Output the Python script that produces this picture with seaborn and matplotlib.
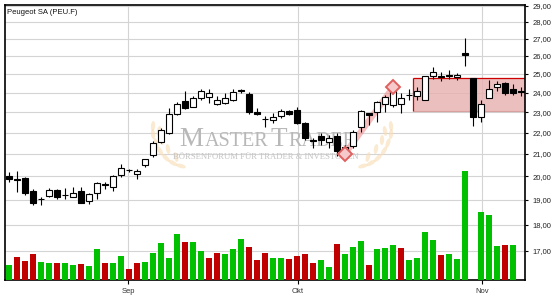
import numpy as np
import pandas as pd
import matplotlib
matplotlib.use("Agg")
import matplotlib.pyplot as plt
import seaborn as sns
from matplotlib.ticker import FixedLocator, FuncFormatter, NullLocator
from matplotlib.patches import Ellipse
from matplotlib.transforms import Affine2D
from matplotlib.offsetbox import TextArea, HPacker, AnchoredOffsetbox

# ---------------- data ----------------
title = "Peugeot SA (PEU.F)"
slots = list(range(65))
opens = [20.01, 19.86, 19.92, 19.36, 19.03, 19.17, 19.41, 19.20, 19.12, 19.37,
         18.95, 19.27, 19.68, 19.55, 20.04, 20.29, 20.12, 20.48, 20.97, 21.57,
         21.97, 22.91, 23.57, 23.28, 23.71, 23.79, 23.40, 23.45, 23.62, 24.12,
         23.93, 23.01, 22.66, 22.61, 22.81, 23.06, 23.11, 22.48, 21.66, 21.84,
         21.54, 21.84, 21.07, 21.37, 22.25, 22.94, 23.00, 23.40, 23.37, 23.40,
         23.90, 23.81, 23.62, 24.90, 24.89, 24.94, 24.83, 26.16, 24.77, 22.74,
         23.71, 24.32, 24.53, 24.18, 24.08]
highs = [20.19, 20.23, 19.95, 19.45, 19.10, 19.51, 19.46, 19.48, 19.52, 19.52,
         19.30, 19.75, 19.74, 20.07, 20.54, 20.33, 20.30, 20.78, 21.60, 22.24,
         23.19, 23.53, 24.11, 23.83, 24.18, 24.18, 23.83, 23.99, 24.21, 24.21,
         24.04, 23.19, 22.81, 22.94, 23.14, 23.11, 23.24, 22.53, 21.73, 22.00,
         21.89, 21.97, 21.41, 22.12, 23.11, 22.97, 23.58, 23.88, 24.31, 23.99,
         24.20, 24.28, 24.90, 25.41, 25.13, 25.24, 25.05, 27.03, 24.80, 23.62,
         24.68, 24.60, 24.55, 24.48, 24.28]
lows = [19.76, 19.34, 19.20, 18.79, 18.79, 19.10, 19.05, 19.05, 19.10, 18.87,
        18.81, 19.02, 19.44, 19.38, 19.98, 20.19, 19.87, 20.39, 20.87, 21.52,
        21.92, 22.86, 23.14, 23.24, 23.62, 23.45, 23.35, 23.43, 23.58, 23.98,
        22.90, 22.86, 22.25, 22.48, 22.70, 22.86, 22.40, 21.65, 21.26, 21.41,
        21.29, 20.90, 21.03, 21.26, 22.04, 22.38, 22.53, 23.00, 23.24, 22.95,
        23.60, 23.62, 23.60, 24.73, 24.62, 24.73, 24.68, 25.42, 22.34, 22.53,
        23.71, 24.09, 23.88, 23.88, 23.83]
closes = [19.89, 19.85, 19.27, 18.88, 19.02, 19.41, 19.10, 19.18, 19.27, 18.88,
          19.23, 19.70, 19.61, 20.01, 20.36, 20.27, 20.24, 20.75, 21.51, 22.12,
          22.91, 23.40, 23.22, 23.71, 24.11, 23.97, 23.62, 23.74, 24.04, 24.10,
          23.02, 22.93, 22.64, 22.76, 23.06, 22.90, 22.45, 21.73, 21.62, 21.65,
          21.73, 21.13, 21.30, 22.04, 23.06, 22.86, 23.50, 23.76, 24.09, 23.71,
          23.88, 24.09, 24.89, 25.09, 24.85, 24.87, 24.94, 26.08, 22.76, 23.40,
          24.18, 24.48, 23.98, 23.99, 24.06]
volumes = [15, 23, 19, 26, 18, 17, 17, 17, 15, 16,
           14, 31, 17, 17, 24, 11, 17, 18, 27, 37,
           22, 46, 38, 38, 29, 22, 27, 26, 31, 41,
           33, 20, 27, 22, 22, 21, 24, 26, 17, 20,
           13, 36, 26, 33, 39, 15, 31, 32, 35, 32,
           20, 22, 48, 40, 25, 26, 21, 109, np.nan, 68,
           65, 34, 35, 35, np.nan]
vol_dir = ["up", "down", "down", "down", "up", "up", "down", "up", "up", "down",
           "up", "up", "down", "up", "up", "down", "down", "up", "up", "up",
           "up", "up", "down", "up", "up", "down", "down", "up", "up", "up",
           "down", "down", "down", "up", "up", "down", "down", "down", "down", "up",
           "up", "down", "up", "up", "up", "down", "up", "up", "up", "down",
           "up", "up", "up", "up", "down", "up", "up", "up", "down", "up",
           "up", "up", "down", "up", "up"]
month_labels = ["Sep", "Okt", "Nov"]
month_pos = [14.9, 36.1, 59.1]
price_ticks = [17, 18, 19, 20, 21, 22, 23, 24, 25, 26, 27, 28, 29]
signal_slots = [42, 48]
signal_prices = [21.01, 24.28]
zone_start = 50.5
zone_low = 23.06
zone_high = 24.77

# ---------------- style ----------------
sns.set_style("white")
plt.rcParams["font.family"] = ["Liberation Sans", "DejaVu Sans"]

W, H = 555, 300
fig = plt.figure(figsize=(W / 100, H / 100), dpi=100)
ax = fig.add_axes([5 / W, 20 / H, 520 / W, 275 / H])
ax.set_yscale("log")
XMIN, XMAX = -0.5, 64.5

# zone box
ax.fill_between([zone_start, XMAX], zone_low, zone_high, color="#e8b0b0",
                alpha=0.8, lw=0, zorder=1)
ax.hlines(zone_low, zone_start, XMAX, color="#d9a0a0", lw=0.9, zorder=1.1)
ax.hlines(zone_high, zone_start, XMAX, color="#cc0000", lw=0.9, zorder=1.1)
ax.vlines(zone_start, zone_low, zone_high, color="#cc0000", lw=0.9, zorder=1.1)

# watermark (laurel + text)
pix = Affine2D().scale(1, -1).translate(0, H)
leaves = [(181, 166, 15), (173, 163, 30), (166, 158, 45), (160, 151, 60),
          (156, 143, 72), (153, 134, 85), (153, 126, 95), (176, 157, 75),
          (168, 149, 80), (162, 140, 88), (159, 131, 100)]
for lx, ly, ang in leaves:
    for xx, aa in ((lx, ang), (544 - lx, 180 - ang)):
        e = Ellipse((xx, ly), 10, 4.2, angle=aa, transform=pix,
                    facecolor="#f9dcb4", edgecolor="none", alpha=0.6, zorder=1.2)
        ax.add_patch(e)

wm_col = "#b8b8b8"
big = dict(fontsize=19.5, color=wm_col, family="Liberation Serif")
small = dict(fontsize=14.5, color=wm_col, family="Liberation Serif")
pack = HPacker(children=[TextArea("M", textprops=big), TextArea("ASTER", textprops=small),
                         TextArea("T", textprops=big), TextArea("RADER", textprops=small)],
               align="baseline", pad=0, sep=1)
anch = AnchoredOffsetbox(loc="center", child=pack, pad=0, borderpad=0, frameon=False,
                         bbox_to_anchor=((268 - 5) / 520, (280 - 139) / 275),
                         bbox_transform=ax.transAxes)
anch.set_zorder(1.3)
ax.add_artist(anch)
ax.text((266 - 5) / 520, (280 - 157) / 275, "BÖRSENFORUM FÜR TRADER & INVESTOREN",
        transform=ax.transAxes, ha="center", va="center", fontsize=6.2,
        family="Liberation Serif", color="#c4c4c4", zorder=1.3)

# trend line + signal markers
ax.plot(signal_slots, signal_prices, color="#f08888", lw=4.5, alpha=0.55,
        solid_capstyle="butt", zorder=2)
ax.plot(signal_slots, signal_prices, linestyle="none", marker="D", ms=7.5,
        mfc="#f6caca", mec="#e06060", mew=1.4, zorder=6)

# candles
o = np.array(opens); c = np.array(closes)
body_lo = np.minimum(o, c)
body_h = np.maximum(np.abs(c - o), 0.004)
fills = ["white" if cc >= oo else "black" for oo, cc in zip(o, c)]
ax.vlines(slots, lows, highs, color="black", lw=0.8, zorder=3)
ax.bar(slots, body_h, bottom=body_lo, width=0.72, color=fills,
       edgecolor="black", linewidth=0.8, zorder=4)

# volume (twin axis, seaborn)
ax2 = ax.twinx()
df_vol = pd.DataFrame({"slot": slots, "volume": volumes, "dir": vol_dir}).dropna()
for d, col in (("up", "#00c000"), ("down", "#c00000")):
    sub = df_vol[df_vol["dir"] == d]
    sns.barplot(data=sub, x="slot", y="volume", color=col, native_scale=True,
                width=0.75, errorbar=None, saturation=1, linewidth=0, ax=ax2)
ax2.set_ylim(0, 275)
ax2.set_yticks([])
ax2.set_ylabel("")
ax2.set_xlabel("")
for s in ax2.spines.values():
    s.set_visible(False)

# axes formatting
ax.set_xlim(XMIN, XMAX)
ax.set_ylim(15.95, 29.06)
ax.yaxis.set_major_locator(FixedLocator(price_ticks))
ax.yaxis.set_minor_locator(NullLocator())
ax.yaxis.set_major_formatter(FuncFormatter(lambda v, p: f"{v:.2f}".replace(".", ",")))
ax.yaxis.tick_right()
ax.set_xticks(month_pos)
ax.set_xticklabels(month_labels)
ax.set_xlabel("")
ax.set_ylabel("")
ax.grid(True, color="#d4d4d4", lw=0.8)
ax.set_axisbelow(True)
ax.tick_params(axis="y", which="both", left=False, right=True, labelleft=False,
               labelright=True, direction="out", length=2.5, width=0.8, pad=3,
               labelsize=5.5, labelcolor="#222222", color="black")
ax.tick_params(axis="x", bottom=True, direction="out", length=3, width=0.8, pad=2.5,
               labelsize=5.5, labelcolor="#333333", color="black")
for s in ax.spines.values():
    s.set_visible(True)
    s.set_color("black")
    s.set_linewidth(1.2)

fig.text(7 / W, 1 - 9.5 / H, title, ha="left", va="top", fontsize=5.5, color="#111111")

fig.savefig("out.png", dpi=100)
